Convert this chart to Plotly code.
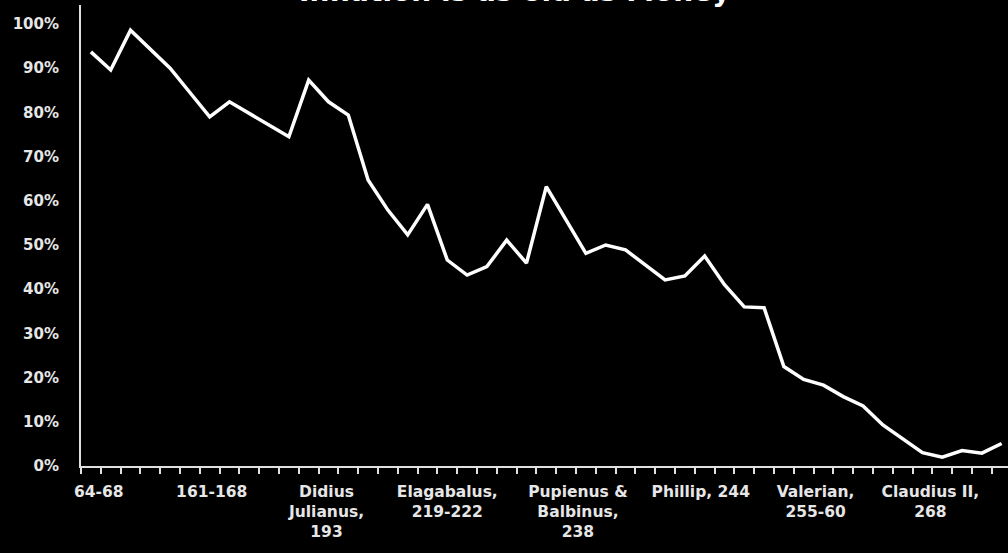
import plotly.graph_objects as go

# silver content of the denarius / antoninianus (%)
silver_pct = [
    93.7, 89.6, 98.6, 94.2, 90.0, 84.5, 79.0, 82.4, 79.7, 77.1,
    74.5, 87.3, 82.4, 79.4, 64.7, 57.9, 52.3, 59.2, 46.6, 43.2,
    45.1, 51.1, 45.9, 63.2, 55.6, 48.1, 50.0, 48.9, 45.5, 42.1,
    43.0, 47.5, 41.0, 36.0, 35.8, 22.5, 19.6, 18.3, 15.7, 13.6,
    9.3, 6.2, 3.0, 2.0, 3.5, 2.9, 5.1,
]
periods = list(range(len(silver_pct)))

# label centres (in category units)
label_positions = [0.4, 6.1, 11.9, 18.0, 24.6, 30.8, 36.6, 42.4]
label_texts = [
    "64-68",
    "161-168",
    "Didius<br>Julianus,<br>193",
    "Elagabalus,<br>219-222",
    "Pupienus &<br>Balbinus,<br>238",
    "Phillip, 244",
    "Valerian,<br>255-60",
    "Claudius II,<br>268",
]
y_ticks = list(range(0, 101, 10))
y_labels = [f"{v}%" for v in y_ticks]

FONT = "DejaVu Sans"
TXT = "#e6e6e6"

fig = go.Figure()
fig.add_trace(
    go.Scatter(
        x=periods,
        y=silver_pct,
        mode="lines",
        line=dict(color="white", width=3.5),
        showlegend=False,
    )
)

fig.update_layout(
    width=1008,
    height=553,
    paper_bgcolor="black",
    plot_bgcolor="black",
    margin=dict(l=81, r=0, t=5, b=87),
    font=dict(family=FONT, color=TXT, size=15),
)

fig.update_xaxes(
    range=[-0.5, 46.32],
    tickmode="array",
    tickvals=label_positions,
    ticktext=label_texts,
    ticks="",
    showgrid=False,
    zeroline=False,
    showline=True,
    linecolor="#e0e0e0",
    linewidth=2,
    ticklabelstandoff=10,
    tickfont=dict(family=FONT, size=15.5, color=TXT, weight=700),
    minor=dict(
        tickmode="linear",
        tick0=-0.5,
        dtick=1,
        ticks="outside",
        ticklen=6,
        tickwidth=2,
        tickcolor="#e0e0e0",
        showgrid=False,
    ),
)

fig.update_yaxes(
    range=[0, 104.3],
    tickmode="array",
    tickvals=y_ticks,
    ticktext=y_labels,
    ticks="",
    showgrid=False,
    zeroline=False,
    showline=True,
    linecolor="#e0e0e0",
    linewidth=2,
    ticklabelstandoff=17,
    tickfont=dict(family=FONT, size=15, color=TXT, weight=700),
)

# title sits mostly above the visible area in the source frame
fig.add_annotation(
    text="Inflation is as old as Money",
    xref="paper",
    yref="paper",
    x=0.468,
    y=1,
    xanchor="center",
    yanchor="bottom",
    yshift=-5,
    showarrow=False,
    font=dict(family=FONT, size=28, color="white", weight=700),
)

fig.write_html(
    "out.html",
    config={"displayModeBar": False},
    post_script="document.body.style.margin='0';document.body.style.background='black';",
)
